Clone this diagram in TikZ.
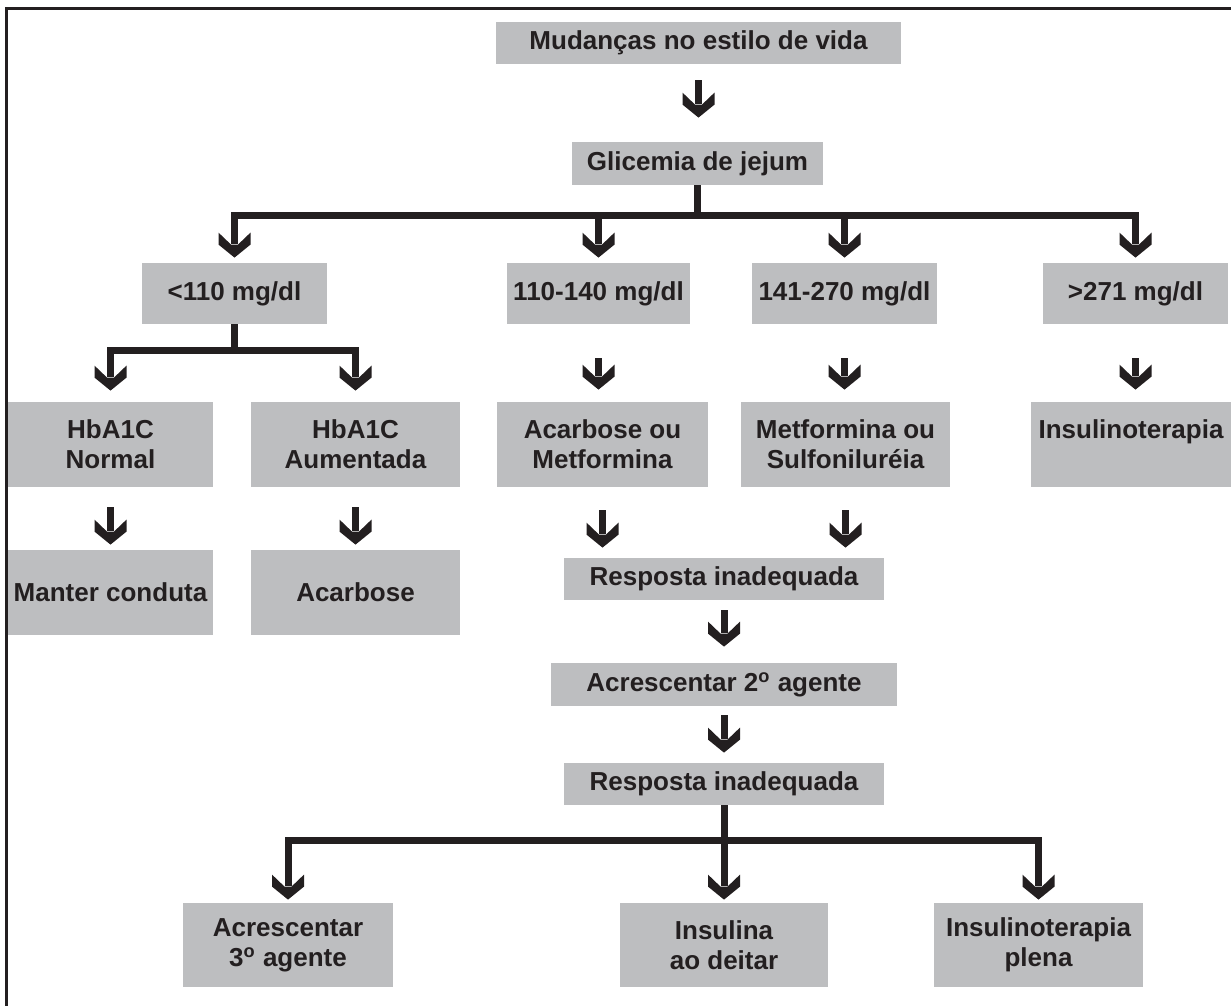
\documentclass[tikz,border=0pt]{standalone}
\usepackage{fontspec}
\setmainfont{Liberation Sans}
\definecolor{boxgray}{HTML}{BDBEC0}
\definecolor{ink}{HTML}{231F20}
\pgfdeclarearrow{
  name = Chev,
  setup code = {
    \pgfarrowssettipend{0pt}
    \pgfarrowssetlineend{-6.75pt}
    \pgfarrowssetbackend{-12.5pt}
    \pgfarrowssetvisualbackend{-12.5pt}
    \pgfarrowshullpoint{0pt}{0pt}
    \pgfarrowsupperhullpoint{-12.5pt}{8pt}
  },
  drawing code = {
    \pgfpathmoveto{\pgfqpoint{0pt}{0pt}}
    \pgfpathlineto{\pgfqpoint{-6.5pt}{8pt}}
    \pgfpathlineto{\pgfqpoint{-12.5pt}{8pt}}
    \pgfpathlineto{\pgfqpoint{-6.5pt}{1.75pt}}
    \pgfpathlineto{\pgfqpoint{-6.5pt}{-1.75pt}}
    \pgfpathlineto{\pgfqpoint{-12.5pt}{-8pt}}
    \pgfpathlineto{\pgfqpoint{-6.5pt}{-8pt}}
    \pgfpathclose
    \pgfusepathqfill
  }
}
\begin{document}
\begin{tikzpicture}[x=0.5pt,y=-0.5pt,
  box/.style={fill=boxgray, inner sep=0pt, align=center, text=ink,
    font=\fontsize{13pt}{15pt}\selectfont\bfseries},
  wh/.style 2 args={minimum width=#1*0.5pt, minimum height=#2*0.5pt},
  conn/.style={color=ink, line width=3.5pt, -Chev},
  barline/.style={color=ink, line width=3.5pt}]
\useasboundingbox (0,0) rectangle (1231,1006);
\draw[ink, line width=1.5pt] (6.5,1006) -- (6.5,9) -- (1231,9);

\node[box, wh={405}{42}] (mud) at (698.5,43) {Mudanças no estilo de vida};
\node[box, wh={251}{43}] (glic) at (697.5,163.5) {Glicemia de jejum};
\node[box, wh={185}{61}] (lt110) at (234.5,293.5) {<110 mg/dl};
\node[box, wh={183}{61}] (r110) at (598.5,293.5) {110-140 mg/dl};
\node[box, wh={185}{61}] (r141) at (844.5,293.5) {141-270 mg/dl};
\node[box, wh={185}{61}] (gt271) at (1135.5,293.5) {>271 mg/dl};
\node[box, wh={205}{85}] (hbn) at (110.5,444.5) {HbA1C\\Normal};
\node[box, wh={209}{85}] (hba) at (355.5,444.5) {HbA1C\\Aumentada};
\node[box, wh={211}{85}] (acm) at (602.5,444.5) {Acarbose ou\\Metformina};
\node[box, wh={209}{85}] (mfs) at (845.5,444.5) {Metformina ou\\Sulfoniluréia};
\node[box, wh={200}{85}] (ins) at (1131,444.5) {Insulinoterapia\\\mbox{}};
\node[box, wh={205}{85}] (mc) at (110.5,592.5) {Manter conduta};
\node[box, wh={209}{85}] (acb) at (355.5,592.5) {Acarbose};
\node[box, wh={320}{42}] (resp1) at (724,579) {Resposta inadequada};
\node[box, wh={346}{43}] (acr2) at (724,684.5) {Acrescentar 2\textsuperscript{o} agente};
\node[box, wh={320}{42}] (resp2) at (724,784) {Resposta inadequada};
\node[box, wh={210}{84}] (acr3) at (288,945) {Acrescentar\\3\textsuperscript{o} agente};
\node[box, wh={208}{84}] (ilad) at (724,945) {Insulina\\ao deitar};
\node[box, wh={209}{84}] (ilp) at (1038.5,945) {Insulinoterapia\\plena};

\coordinate (bar1) at (0,215);
\coordinate (bar2) at (0,350);
\coordinate (bar3) at (0,840);

% top
\draw[conn, shorten <=8pt, shorten >=12pt] (mud.south) -- (mud.south |- glic.north);
% first branching
\foreach \t in {lt110,r110,r141,gt271}
  \draw[conn, shorten >=2.5pt] (glic.south) -- (glic.south |- bar1) -| (\t.north);
% <110 branching
\foreach \t in {hbn,hba}
  \draw[conn, shorten >=5.5pt] (lt110.south) -- (lt110.south |- bar2) -| (\t.north);
% second row
\draw[conn, shorten <=17pt, shorten >=6pt] (r110.south) -- (r110.south |- acm.north);
\draw[conn, shorten <=17pt, shorten >=6pt] (r141.south) -- (r141.south |- mfs.north);
\draw[conn, shorten <=17pt, shorten >=6pt] (gt271.south) -- (gt271.south |- ins.north);
% third row
\draw[conn, shorten <=10pt, shorten >=2.5pt] (hbn.south) -- (hbn.south |- mc.north);
\draw[conn, shorten <=10pt, shorten >=2.5pt] (hba.south) -- (hba.south |- acb.north);
\draw[conn, shorten <=11.5pt, shorten >=5pt] (acm.south) -- (acm.south |- resp1.north);
\draw[conn, shorten <=11.5pt, shorten >=5pt] (mfs.south) -- (mfs.south |- resp1.north);
% chain
\draw[conn, shorten <=5pt, shorten >=8pt] (resp1.south) -- (acr2.north);
\draw[conn, shorten <=4.5pt, shorten >=5pt] (acr2.south) -- (resp2.north);
% final branching
\foreach \t in {acr3,ilad,ilp}
  \draw[conn, shorten >=1.5pt] (resp2.south) -- (resp2.south |- bar3) -| (\t.north);
\end{tikzpicture}
\end{document}
